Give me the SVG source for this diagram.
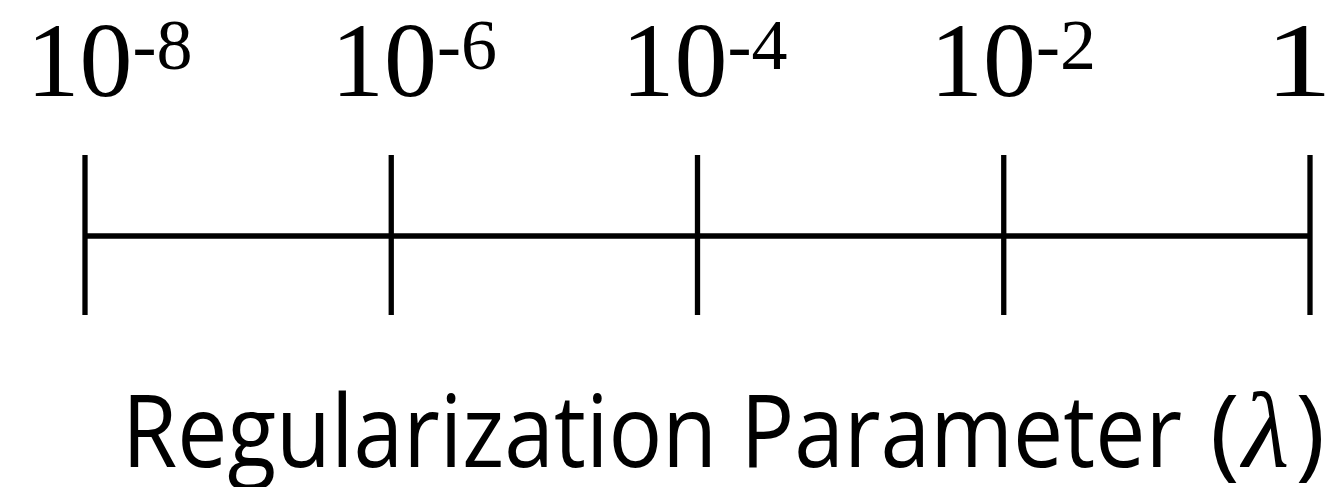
<svg xmlns="http://www.w3.org/2000/svg" width="1342" height="487" viewBox="0 0 1342 487">
  <style>
    .lbl { font-family: "Liberation Serif", "Times New Roman", serif; font-size: 106px; fill: #000; }
    .sup { font-size: 72px; }
    .axis { stroke: #000; stroke-width: 5.3; fill: none; }
    .title { font-family: "Open Sans", "Liberation Sans", sans-serif; font-size: 100px; fill: #000; }
    .lam { font-family: "Liberation Serif", "Times New Roman", serif; font-style: italic; font-size: 108px; fill: #000; }
  </style>
  <rect width="1342" height="487" fill="#fff"/>
  <g id="connectors">
    <line class="axis" x1="85" y1="236" x2="1310" y2="236"/>
  </g>
  <g id="tick-1e-8">
    <line class="axis" x1="85" y1="155" x2="85" y2="315"/>
    <text class="lbl" x="26.5" y="95.5">10<tspan class="sup" y="69">-8</tspan></text>
  </g>
  <g id="tick-1e-6">
    <line class="axis" x1="391.25" y1="155" x2="391.25" y2="315"/>
    <text class="lbl" x="331" y="95.5">10<tspan class="sup" y="69">-6</tspan></text>
  </g>
  <g id="tick-1e-4">
    <line class="axis" x1="697.5" y1="155" x2="697.5" y2="315"/>
    <text class="lbl" x="621.5" y="95.5">10<tspan class="sup" y="69">-4</tspan></text>
  </g>
  <g id="tick-1e-2">
    <line class="axis" x1="1003.75" y1="155" x2="1003.75" y2="315"/>
    <text class="lbl" x="930" y="95.5">10<tspan class="sup" y="69">-2</tspan></text>
  </g>
  <g id="tick-1">
    <line class="axis" x1="1310" y1="155" x2="1310" y2="315"/>
    <text class="lbl" transform="translate(1265,95.5) scale(1.27,1)" x="0" y="0">1</text>
  </g>
  <g id="axis-title">
    <text class="title" x="122" y="467" textLength="1060" lengthAdjust="spacingAndGlyphs">Regularization Parameter</text>
    <text class="title" x="1210" y="467">(</text>
    <text class="lam" x="1266" y="467" text-anchor="middle">λ</text>
    <text class="title" x="1325" y="467" text-anchor="end">)</text>
  </g>
</svg>
